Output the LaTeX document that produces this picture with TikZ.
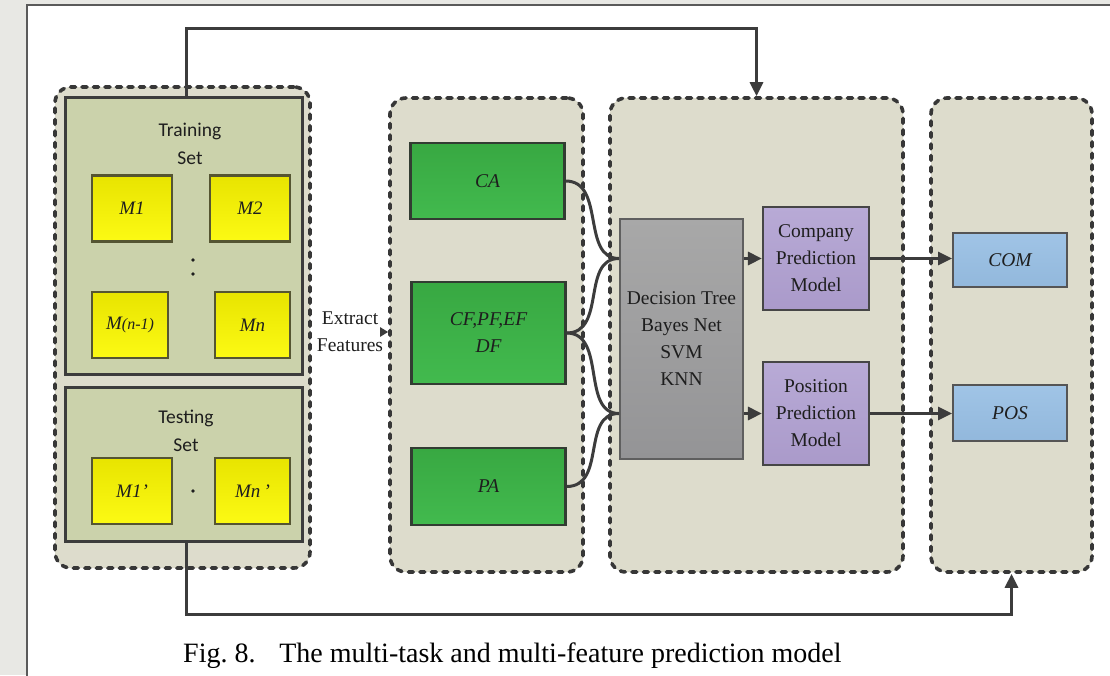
\documentclass[tikz,border=0pt]{standalone}
\usepackage{fontspec}
\setmainfont{Liberation Serif}
\newfontfamily\carlitofont{Carlito}
\usetikzlibrary{arrows.meta,calc}

\definecolor{pagegray}{RGB}{232,232,228}
\definecolor{framegray}{RGB}{90,90,90}
\definecolor{groupfill}{RGB}{221,220,204}
\definecolor{dashgray}{RGB}{55,55,55}
\definecolor{setfill}{RGB}{203,210,171}
\definecolor{setedge}{RGB}{60,60,60}
\definecolor{ytop}{RGB}{232,228,0}
\definecolor{ybot}{RGB}{252,250,20}
\definecolor{yedge}{RGB}{85,85,50}
\definecolor{gtop}{RGB}{56,168,66}
\definecolor{gbot}{RGB}{66,186,78}
\definecolor{gedge}{RGB}{50,60,50}
\definecolor{algotop}{RGB}{168,168,168}
\definecolor{algobot}{RGB}{148,148,150}
\definecolor{algoedge}{RGB}{95,95,95}
\definecolor{ptop}{RGB}{184,170,214}
\definecolor{pbot}{RGB}{170,154,202}
\definecolor{pedge}{RGB}{70,70,70}
\definecolor{btop}{RGB}{160,196,230}
\definecolor{bbot}{RGB}{146,184,220}
\definecolor{bedge}{RGB}{85,85,85}
\definecolor{linkgray}{RGB}{60,60,60}
\definecolor{inkgray}{RGB}{30,30,30}

\newcommand{\labelfont}{\fontsize{19.5}{27}\selectfont}

\begin{document}
\begin{tikzpicture}[x=1pt,y=-1pt,
  group/.style={draw=dashgray, fill=groupfill, line width=3.6pt,
    dash pattern=on 5pt off 6.5pt, line cap=round, rounded corners=16pt,
    inner sep=0pt},
  setbox/.style={draw=setedge, fill=setfill, line width=3pt, inner sep=0pt},
  mbox/.style={draw=yedge, top color=ytop, bottom color=ybot, line width=2.5pt,
    inner sep=0pt, minimum height=66pt, text=inkgray,
    font=\itshape\fontsize{19}{19}\selectfont},
  featbox/.style={draw=gedge, top color=gtop, bottom color=gbot, line width=2.2pt,
    inner sep=0pt, minimum width=154pt, text=inkgray, align=center,
    font=\itshape\fontsize{19.5}{27}\selectfont},
  modelbox/.style={draw=pedge, top color=ptop, bottom color=pbot, line width=2.2pt,
    inner sep=0pt, minimum width=106pt, minimum height=103pt, align=center,
    text=inkgray, font=\labelfont},
  outbox/.style={draw=bedge, top color=btop, bottom color=bbot, line width=2pt,
    inner sep=0pt, minimum width=114pt, text=inkgray,
    font=\itshape\fontsize{19.5}{27}\selectfont},
  link/.style={draw=linkgray, line width=3pt},
  tip/.style={-{Triangle[length=14pt,width=13pt]}},
  smalltip/.style={-{Triangle[length=8pt,width=9pt]}}
]
\useasboundingbox (0,0) rectangle (1110,675);

% page and frame
\fill[pagegray] (0,0) rectangle (1110,675);
\draw[framegray, fill=white, line width=2.5pt] (27,5) rectangle (1125,690);

% dashed groups
\node[group, minimum width=255pt, minimum height=481pt] (g1) at (182.5,327.5) {};
\node[group, minimum width=193pt, minimum height=474pt] (g2) at (486.5,335) {};
\node[group, minimum width=293pt, minimum height=474pt] (g3) at (756.5,335) {};
\node[group, minimum width=161pt, minimum height=474pt] (g4) at (1011.5,335) {};

% training and testing sets
\node[setbox, minimum width=237pt, minimum height=277pt] (train) at (183.5,235.5) {};
\node[setbox, minimum width=237pt, minimum height=154pt] (test) at (183.5,464) {};
\node[align=center, font=\carlitofont\fontsize{19.5}{28}\selectfont, text=inkgray]
  (traintxt) at (190,144) {Training\\Set};
\node[align=center, font=\carlitofont\fontsize{19.5}{28}\selectfont, text=inkgray]
  (testtxt) at (186,431) {Testing\\Set};

\node[mbox, minimum width=80pt] (m1) at (132,208.5) {M1};
\node[mbox, minimum width=80pt] (m2) at (250,208.5) {M2};
\node[mbox, minimum width=76pt] (mn1) at (130,325) {M\fontsize{16}{16}\selectfont(n-1)};
\node[mbox, minimum width=75pt] (mn) at (252.5,325) {Mn};
\node[mbox, minimum width=80pt] (t1) at (132,491) {M1'};
\node[mbox, minimum width=75pt] (tn) at (252.5,491) {Mn\,'};

\fill[inkgray] (193,260) circle (1.8pt) (193,274) circle (1.8pt) (193,491) circle (1.8pt);

% extracted features
\node[featbox, minimum height=76pt] (ca) at (487.5,181) {CA};
\node[featbox, minimum height=102pt] (cf) at (488.5,333) {CF,PF,EF\\DF};
\node[featbox, minimum height=77pt] (pa) at (488.5,486.5) {PA};

\node[align=center, font=\labelfont, text=inkgray, inner sep=0pt]
  (ef) at (350,332) {Extract\\Features};
\draw[link, line width=2pt, smalltip] (ef.east) ++(-1,0) coordinate (efa) -- (efa -| g2.west);

% classifiers and models
\node[draw=algoedge, top color=algotop, bottom color=algobot, line width=2pt,
  inner sep=0pt, minimum width=123pt, minimum height=240pt, align=center,
  text=inkgray, font=\labelfont] (algo) at (681.5,339)
  {Decision Tree\\Bayes Net\\SVM\\KNN};
\node[modelbox] (cpm) at (816,258.5) {Company\\Prediction\\Model};
\node[modelbox] (ppm) at (816,413.5) {Position\\Prediction\\Model};

% outputs
\node[outbox, minimum height=54pt] (com) at (1010,260) {COM};
\node[outbox, minimum height=56pt] (pos) at (1010,413) {POS};

% feature links into the classifier block
\coordinate (inU) at (algo.west |- cpm.west);
\coordinate (inL) at (algo.west |- ppm.west);
\draw[link] (ca.east) .. controls ++(40,0) and ($(inU)+(-38,0)$) .. (inU);
\draw[link] (cf.east) .. controls ++(40,0) and ($(inU)+(-38,0)$) .. (inU);
\draw[link] (cf.east) .. controls ++(40,0) and ($(inL)+(-38,0)$) .. (inL);
\draw[link] (pa.east) .. controls ++(40,0) and ($(inL)+(-38,0)$) .. (inL);

% model arrows
\draw[link, tip] (cpm.west -| algo.east) -- (cpm.west);
\draw[link, tip] (ppm.west -| algo.east) -- (ppm.west);
\draw[link, tip] (cpm.east) -- (cpm.east -| com.west);
\draw[link, tip] (ppm.east) -- (ppm.east -| pos.west);

% training data to the model block, testing data to the outputs
\draw[link, tip] (train.north) ++(2.5,0) coordinate (tr) -- (tr |- 0,28) -| (g3.north);
\draw[link, tip] (test.south) ++(2.5,0) coordinate (te) -- (te |- 0,614) -| (g4.south);

% caption
\node[anchor=base west, inner sep=0pt, font=\fontsize{28}{30}\selectfont]
  (caption) at (183,662) {Fig.\ 8.\hspace{0.85em}The multi-task and multi-feature prediction model};
\end{tikzpicture}
\end{document}
